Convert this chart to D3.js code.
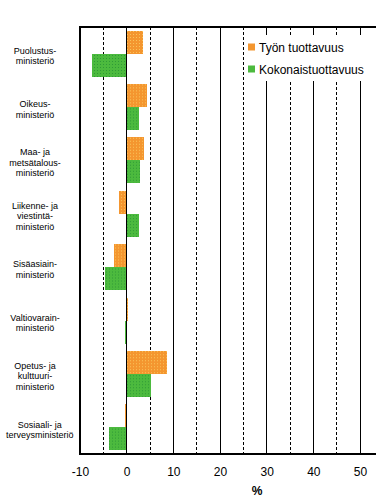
<!DOCTYPE html>
<html>
<head>
<meta charset="utf-8">
<title>Tuottavuus ministeriöittäin</title>
<script src="https://d3js.org/d3.v7.min.js"></script>
<style>
  body { margin: 0; background: #fff; }
  svg { display: block; font-family: "Liberation Sans", Arial, sans-serif; }
</style>
</head>
<body>
<div id="chart"></div>
<script>
// category labels (line breaks as in the picture)
const categories = [
  ["Puolustus-", "ministeriö"],
  ["Oikeus-", "ministeriö"],
  ["Maa- ja", "metsätalous-", "ministeriö"],
  ["Liikenne- ja", "viestintä-", "ministeriö"],
  ["Sisäasiain-", "ministeriö"],
  ["Valtiovarain-", "ministeriö"],
  ["Opetus- ja", "kulttuuri-", "ministeriö"],
  ["Sosiaali- ja", "terveysministeriö"]
];
const seriesNames = ["Työn tuottavuus", "Kokonaistuottavuus"];
const tyonTuottavuus = [3.5, 4.4, 3.7, -1.6, -2.7, 0.2, 8.6, -0.3];
const kokonaistuottavuus = [-7.4, 2.6, 2.8, 2.6, -4.6, -0.3, 5.2, -3.8];
const xTicks = [-10, 0, 10, 20, 30, 40, 50];
const xDashed = [-5, 5, 15, 25, 35, 45];

const W = 376, H = 499;
const margin = { top: 27, right: 2, bottom: 45, left: 80 };

const svg = d3.select("#chart").append("svg")
  .attr("width", W).attr("height", H);

// dithered fills like the original
const defs = svg.append("defs");
function dither(id, base, dot) {
  const p = defs.append("pattern").attr("id", id)
    .attr("width", 3).attr("height", 3).attr("patternUnits", "userSpaceOnUse");
  p.append("rect").attr("width", 3).attr("height", 3).attr("fill", base);
  p.append("rect").attr("x", 1).attr("y", 1).attr("width", 1).attr("height", 1).attr("fill", dot);
}
dither("pOrange", "#f4962f", "#f9c35a");
dither("pGreen", "#4cba3e", "#2f9a36");
const colors = ["url(#pOrange)", "url(#pGreen)"];
const legendColors = ["#f4962f", "#4cba3e"];

const x = d3.scaleLinear().domain([-10, 53]).range([margin.left, W - margin.right]);
const y0 = d3.scaleBand().domain(d3.range(categories.length))
  .range([margin.top, H - margin.bottom]).padding(0);
const y1 = d3.scaleBand().domain([0, 1]).range([0, y0.bandwidth()]).paddingOuter(0.16);

const plotTop = margin.top, plotBottom = H - margin.bottom;

// gridlines
svg.append("g").selectAll("line").data(xTicks.slice(1)).join("line")
  .attr("x1", d => x(d)).attr("x2", d => x(d))
  .attr("y1", plotTop).attr("y2", plotBottom)
  .attr("stroke", "#000").attr("stroke-width", 1).attr("shape-rendering", "crispEdges");
svg.append("g").selectAll("line").data(xDashed).join("line")
  .attr("x1", d => x(d)).attr("x2", d => x(d))
  .attr("y1", plotTop).attr("y2", plotBottom)
  .attr("stroke", "#000").attr("stroke-width", 1).attr("stroke-dasharray", "3,2")
  .attr("shape-rendering", "crispEdges");

// bars
const data = categories.map((c, i) => [tyonTuottavuus[i], kokonaistuottavuus[i]]);
const groups = svg.append("g").selectAll("g").data(data).join("g")
  .attr("transform", (d, i) => `translate(0,${y0(i)})`);
groups.selectAll("rect").data(d => d.map((v, s) => ({ v, s }))).join("rect")
  .attr("x", d => x(Math.min(0, d.v)))
  .attr("width", d => Math.abs(x(d.v) - x(0)))
  .attr("y", d => y1(d.s))
  .attr("height", y1.bandwidth())
  .attr("fill", d => colors[d.s])
  .attr("shape-rendering", "crispEdges");

// zero line on top
svg.append("line")
  .attr("x1", x(0)).attr("x2", x(0)).attr("y1", plotTop).attr("y2", plotBottom)
  .attr("stroke", "#000").attr("stroke-width", 1.2).attr("shape-rendering", "crispEdges");

// frame: left, top, bottom
svg.append("path")
  .attr("d", `M${W},${plotTop}H${margin.left}V${plotBottom}H${W}`)
  .attr("fill", "none").attr("stroke", "#000").attr("stroke-width", 1.2)
  .attr("shape-rendering", "crispEdges");

// x axis labels (plain hyphen minus like the original)
const xAxis = svg.append("g")
  .attr("transform", `translate(0,${plotBottom})`)
  .call(d3.axisBottom(x).tickValues(xTicks).tickFormat(d => String(d)).tickSize(0).tickPadding(13));
xAxis.select(".domain").remove();
xAxis.selectAll("text").attr("font-size", 12).attr("fill", "#000")
  .attr("font-family", "'Liberation Sans', Arial, sans-serif");

svg.append("text")
  .attr("x", 257).attr("y", 495)
  .attr("text-anchor", "middle").attr("font-size", 12).attr("font-weight", "bold")
  .text("%");

// category labels
const lineH = 10.5;
const catLabels = svg.append("g").selectAll("text").data(categories).join("text")
  .attr("font-size", 9).attr("fill", "#000").attr("text-anchor", "middle");
catLabels.each(function (lines, i) {
  const t = d3.select(this);
  const cy = y0(i) + y0.bandwidth() / 2 + 2;
  const first = cy - (lines.length - 1) * lineH / 2 + 3.5;
  lines.forEach((l, k) => {
    t.append("tspan").attr("y", first + k * lineH).text(l);
  });
  let wMax = 0;
  t.selectAll("tspan").each(function () { wMax = Math.max(wMax, this.getComputedTextLength()); });
  const cx = Math.max(35, 6 + wMax / 2);
  t.selectAll("tspan").attr("x", cx);
});

// legend
const lg = svg.append("g");
lg.append("rect").attr("x", 244).attr("y", 35).attr("width", 124).attr("height", 46).attr("fill", "#fff");
seriesNames.forEach((n, i) => {
  const ly = 47 + i * 22;
  lg.append("rect").attr("x", 248).attr("y", ly - 3.5).attr("width", 7).attr("height", 7)
    .attr("fill", legendColors[i]);
  lg.append("text").attr("x", 259).attr("y", ly + 4.5).attr("font-size", 12).attr("fill", "#000").text(n);
});
</script>
</body>
</html>
